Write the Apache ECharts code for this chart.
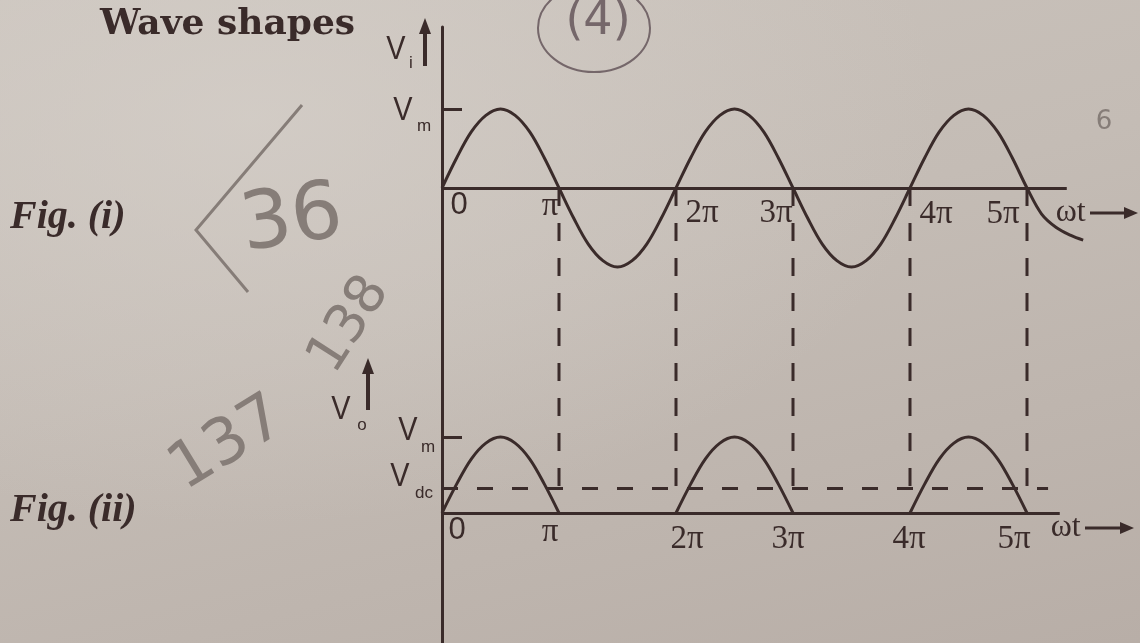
<!DOCTYPE html>
<html>
<head>
<meta charset="utf-8">
<title>Wave shapes</title>
<script src="https://cdn.jsdelivr.net/npm/echarts@6/dist/echarts.min.js"></script>
<style>
  html, body { margin: 0; padding: 0; }
  body {
    width: 1140px; height: 643px; overflow: hidden;
    background:
      radial-gradient(ellipse at 22% 18%, rgba(214,208,202,0.7) 0%, rgba(214,208,202,0) 55%),
      linear-gradient(165deg, #cbc4bd 0%, #c4bcb5 45%, #b8aea7 100%);
  }
  #chart { width: 1140px; height: 643px; }
</style>
</head>
<body>
<div id="chart"></div>
<script>
// ---- data (phase in multiples of π, voltage in multiples of Vm) ----
const piTicks  = [0, 1, 2, 3, 4, 5];
const piLabels = ['0', 'π', '2π', '3π', '4π', '5π'];
const dashedAt = [1, 2, 3, 4, 5];
const VM  = 1;
const VDC = 0.32;   // Vm / π

// input voltage Vi
const inputWave = [
  [0, 0], [0.125, 0.38], [0.25, 0.71], [0.375, 0.92], [0.5, 1], [0.625, 0.92], [0.75, 0.71], [0.875, 0.38],
  [1, 0], [1.125, -0.38], [1.25, -0.71], [1.375, -0.92], [1.5, -1], [1.625, -0.92], [1.75, -0.71], [1.875, -0.38],
  [2, 0], [2.125, 0.38], [2.25, 0.71], [2.375, 0.92], [2.5, 1], [2.625, 0.92], [2.75, 0.71], [2.875, 0.38],
  [3, 0], [3.125, -0.38], [3.25, -0.71], [3.375, -0.92], [3.5, -1], [3.625, -0.92], [3.75, -0.71], [3.875, -0.38],
  [4, 0], [4.125, 0.38], [4.25, 0.71], [4.375, 0.92], [4.5, 1], [4.625, 0.92], [4.75, 0.71], [4.875, 0.38],
  [5, 0], [5.125, -0.33], [5.25, -0.5], [5.375, -0.6], [5.48, -0.66]
];

// rectified output Vo : one hump per positive half cycle, zero in between
const outputHumps = [
  [[0, 0], [0.125, 0.38], [0.25, 0.71], [0.375, 0.92], [0.5, 1], [0.625, 0.92], [0.75, 0.71], [0.875, 0.38], [1, 0]],
  [[2, 0], [2.125, 0.38], [2.25, 0.71], [2.375, 0.92], [2.5, 1], [2.625, 0.92], [2.75, 0.71], [2.875, 0.38], [3, 0]],
  [[4, 0], [4.125, 0.38], [4.25, 0.71], [4.375, 0.92], [4.5, 1], [4.625, 0.92], [4.75, 0.71], [4.875, 0.38], [5, 0]]
];

// ---- layout ----
const INK = '#3a2b2a';
const PENCIL = '#867d78';
const AXIS_LEFT = 442;
const PX_PER_PI = 117;
const X_MAX = 5.6;
const VDC_END = 5.18;
const TICK_LEN = 20 / PX_PER_PI;
const panels = [
  { top: 27,  bottom: 300, zero: 188, unit: 79, axisEnd: 5.34 },   // Fig. (i)
  { top: 300, bottom: 643, zero: 513, unit: 76, axisEnd: 5.28 }    // Fig. (ii)
];

const grids = panels.map(p => ({
  left: AXIS_LEFT, top: p.top, height: p.bottom - p.top,
  width: X_MAX * PX_PER_PI, containLabel: false
}));
const xAxes = panels.map((p, i) => ({
  type: 'value', gridIndex: i, min: 0, max: X_MAX,
  axisLine: { show: false }, axisTick: { show: false },
  axisLabel: { show: false }, splitLine: { show: false }
}));
const yAxes = panels.map((p, i) => ({
  type: 'value', gridIndex: i,
  min: -(p.bottom - p.zero) / p.unit, max: (p.zero - p.top) / p.unit,
  axisLine: { show: true, onZero: false, lineStyle: { color: INK, width: 3 } },
  axisTick: { show: false }, axisLabel: { show: false }, splitLine: { show: false }
}));

const solid = { color: INK, width: 3, type: 'solid' };
const curveStyle = { color: INK, width: 3 };
const vmTick = () => [{ coord: [0, VM] }, { coord: [TICK_LEN, VM] }];
const timeAxis = p => [{ coord: [0, 0] }, { coord: [p.axisEnd, 0] }];

const series = [
  {
    type: 'line', xAxisIndex: 0, yAxisIndex: 0, data: inputWave,
    smooth: 0.35, symbol: 'none', lineStyle: curveStyle,
    markLine: {
      silent: true, symbol: 'none', label: { show: false }, lineStyle: solid,
      data: [timeAxis(panels[0]), vmTick()]
    }
  }
];
outputHumps.forEach((hump, i) => {
  const s = {
    type: 'line', xAxisIndex: 1, yAxisIndex: 1, data: hump,
    smooth: 0.35, symbol: 'none', lineStyle: curveStyle
  };
  if (i === 0) {
    s.markLine = {
      silent: true, symbol: 'none', label: { show: false }, lineStyle: solid,
      data: [
        timeAxis(panels[1]),
        vmTick(),
        [
          { coord: [0, VDC], lineStyle: { color: INK, width: 3, type: [16, 19] } },
          { coord: [VDC_END, VDC] }
        ]
      ]
    };
  }
  series.push(s);
});

const chart = echarts.init(document.getElementById('chart'), null, { renderer: 'canvas' });
chart.setOption({
  animation: false,
  backgroundColor: 'transparent',
  grid: grids, xAxis: xAxes, yAxis: yAxes, series: series
});

// ---- annotations placed through the axes ----
const px = (gi, x, y) => chart.convertToPixel({ gridIndex: gi }, [x, y]);
const g = [];

function txt(text, x, y, font, opts) {
  return Object.assign({
    type: 'text', x: x, y: y, silent: true,
    style: Object.assign({ text: text, font: font, fill: INK, align: 'center', verticalAlign: 'middle' },
                         (opts && opts.style) || {})
  }, (opts && opts.el) || {});
}

// vertical dashed projections from the input crossings down to the Vdc level
dashedAt.forEach(k => {
  const a = px(0, k, 0), b = px(1, k, VDC);
  g.push({ type: 'line', silent: true,
    shape: { x1: a[0], y1: a[1], x2: b[0], y2: b[1] },
    style: { stroke: INK, lineWidth: 3, lineDash: [18, 17] } });
});

// phase labels
const TICK_FONT = '33px "Liberation Serif", serif';
const ZERO_FONT = '31px "Liberation Sans", sans-serif';
const topShift = [[17, 17], [-9, 18], [26, 25], [-17, 25], [26, 26], [-24, 26]];
const botShift = [[15, 17], [-9, 19], [11, 26], [-5, 26], [-1, 26], [-13, 26]];
piTicks.forEach((k, i) => {
  const a = px(0, k, 0), b = px(1, k, 0);
  const f = k === 0 ? ZERO_FONT : TICK_FONT;
  g.push(txt(piLabels[i], a[0] + topShift[i][0], a[1] + topShift[i][1], f));
  g.push(txt(piLabels[i], b[0] + botShift[i][0], b[1] + botShift[i][1], f));
});

// ωt with arrow at the end of each time axis
function timeArrow(gi, dx, dy, x0, x1) {
  const e = px(gi, panels[gi].axisEnd, 0);
  const y = e[1] + dy;
  g.push(txt('ωt', e[0] + dx, y, '32px "Liberation Serif", serif'));
  g.push({ type: 'line', silent: true, shape: { x1: x0, y1: y, x2: x1 - 10, y2: y },
    style: { stroke: INK, lineWidth: 3 } });
  g.push({ type: 'polygon', silent: true,
    shape: { points: [[x1 - 14, y - 6], [x1, y], [x1 - 14, y + 6]] },
    style: { fill: INK } });
}
timeArrow(0, 4, 25, 1090, 1138);
timeArrow(1, 6, 15, 1085, 1134);

// vertical arrows next to the voltage symbols
function upArrow(x, yTop, yBot) {
  g.push({ type: 'line', silent: true, shape: { x1: x, y1: yBot, x2: x, y2: yTop + 12 },
    style: { stroke: INK, lineWidth: 4 } });
  g.push({ type: 'polygon', silent: true,
    shape: { points: [[x - 6, yTop + 16], [x, yTop], [x + 6, yTop + 16]] },
    style: { fill: INK } });
}
upArrow(425, 18, 66);
upArrow(368, 358, 410);

// voltage symbols
const V_FONT = '34px "Liberation Sans", sans-serif';
const SUB_FONT = '17px "Liberation Sans", sans-serif';
function vSym(x, y, sub, sx, sy) {
  g.push(txt('V', x, y, V_FONT, { el: { scaleX: 0.85 } }));
  g.push(txt(sub, sx, sy, SUB_FONT));
}
const vmTop = px(0, 0, VM), vmBot = px(1, 0, VM), vdcPx = px(1, 0, VDC);
vSym(396, 50, 'i', 411, 63);
vSym(403, vmTop[1] + 2, 'm', 424, vmTop[1] + 17);
vSym(341, 410, 'o', 362, 425);
vSym(408, vmBot[1] - 6, 'm', 428, vmBot[1] + 10);
vSym(400, vdcPx[1] - 12, 'dc', 424, vdcPx[1] + 5);

// headings
g.push(txt('Wave shapes', 100, 25, 'bold 36px "DejaVu Serif", serif', { style: { align: 'left' } }));
g.push(txt('Fig. (i)', 10, 218, 'italic bold 40px "Liberation Serif", serif', { style: { align: 'left' } }));
g.push(txt('Fig. (ii)', 10, 511, 'italic bold 40px "Liberation Serif", serif', { style: { align: 'left' } }));

// pencil notes written on the page
g.push({ type: 'ellipse', silent: true, shape: { cx: 594, cy: 28, rx: 56, ry: 44 },
  style: { fill: 'none', stroke: '#75676a', lineWidth: 2 } });
g.push(txt('(4)', 598, 22, '46px "DejaVu Sans", sans-serif', { style: { fill: '#75676a' } }));
g.push(txt('36', 292, 222, '80px "DejaVu Sans", sans-serif',
  { style: { fill: PENCIL }, el: { rotation: 0.15 } }));
g.push({ type: 'polyline', silent: true, shape: { points: [[302, 105], [196, 230], [248, 292]] },
  style: { stroke: PENCIL, lineWidth: 3, fill: 'none' } });
g.push(txt('138', 350, 325, '54px "DejaVu Sans", sans-serif',
  { style: { fill: PENCIL }, el: { rotation: 1.0 } }));
g.push(txt('137', 228, 445, '64px "DejaVu Sans", sans-serif',
  { style: { fill: PENCIL }, el: { rotation: 0.55 } }));
g.push(txt('6', 1104, 122, '26px "DejaVu Sans", sans-serif', { style: { fill: PENCIL } }));

chart.setOption({ graphic: { elements: g } });
</script>
</body>
</html>
